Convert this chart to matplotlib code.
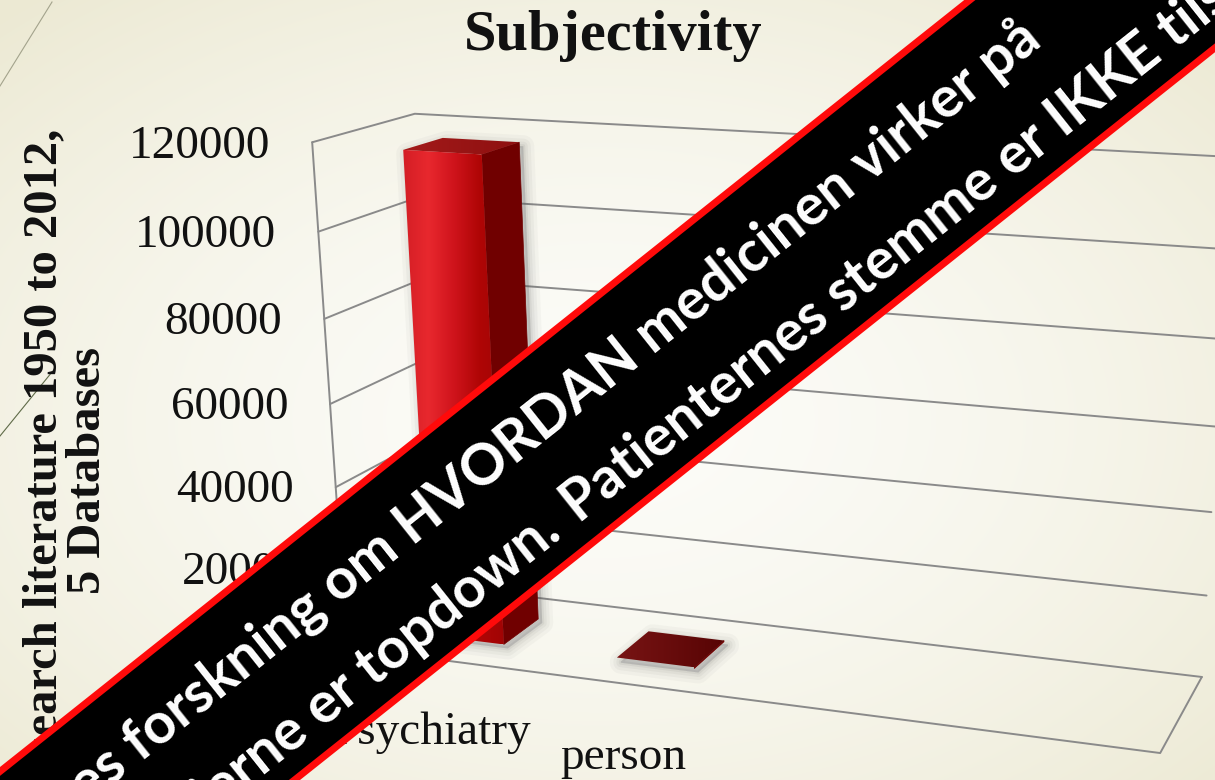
import numpy as np
import matplotlib
matplotlib.use("Agg")
import matplotlib.pyplot as plt
from matplotlib.colors import to_rgb, LinearSegmentedColormap
from matplotlib.patches import Polygon

# ---- data ----
categories = ["Psychiatry", "person", "", ""]
counts = [117000, 300, np.nan, np.nan]
value_ticks = [0, 20000, 40000, 60000, 80000, 100000, 120000]
value_max = 120000
title = "Subjectivity"
value_label = "Research literature 1950 to 2012,\n5 Databases"
banner_line1 = "Der mangler brugeres forskning om HVORDAN medicinen virker på"
banner_line2 = ["hjernen. Studierne er topdown.", "Patienternes stemme er IKKE tilstede"]

W, H = 1215, 780
SERIF = "Liberation Serif"

# corners of the 3d plot box (u = category axis, v = depth, w = height)
# and where they land on the slide; a pinhole camera is fitted to them
box_corners = np.array([[0, 0, 0], [0, 0, 1], [0, 1, 1], [0, 1, 0],
                        [1, 1, 0], [1, 0, 0], [1, 1, 1]], float)
box_pixels = np.array([[347, 648], [312, 142], [415, 114], [440, 586],
                       [1202, 677], [1160, 753], [1232, 157]], float)


def fit_camera(pts3, pts2):
    rows = []
    for p, (x, y) in zip(pts3, pts2 / 1000.0):
        h = list(p) + [1.0]
        rows.append(h + [0.0] * 4 + [-x * c for c in h])
        rows.append([0.0] * 4 + h + [-y * c for c in h])
    return np.linalg.svd(np.array(rows))[2][-1].reshape(3, 4)


cam = fit_camera(box_corners, box_pixels)
eye = np.linalg.svd(cam)[2][-1]
eye = eye[:3] / eye[3]


def proj(u, v, w):
    h = cam @ np.array([u, v, w, 1.0])
    return h[0] / h[2] * 1000, h[1] / h[2] * 1000


def quad(pts):
    return np.array([proj(*p) for p in pts])


def hull(pts):
    pts = sorted(map(tuple, pts))
    def half(seq):
        out = []
        for p in seq:
            while len(out) >= 2 and ((out[-1][0] - out[-2][0]) * (p[1] - out[-2][1])
                                     - (out[-1][1] - out[-2][1]) * (p[0] - out[-2][0])) <= 0:
                out.pop()
            out.append(p)
        return out
    lo, up = half(pts), half(pts[::-1])
    return np.array(lo[:-1] + up[:-1])


def gradient_face(ax, poly, cmap, zorder):
    # left-to-right colour ramp clipped to a projected face
    x0, y0 = poly.min(axis=0)
    x1, y1 = poly.max(axis=0)
    ramp = np.linspace(0, 1, 256)[None, :].repeat(2, axis=0)
    im = ax.imshow(ramp, cmap=cmap, extent=(x0, x1, y1, y0), aspect="auto",
                   interpolation="bilinear", zorder=zorder)
    patch = Polygon(poly, closed=True, fc="none", ec="none", transform=ax.transData)
    im.set_clip_path(patch)


fig = plt.figure(figsize=(W / 100, H / 100), dpi=100)
ax = fig.add_axes([0, 0, 1, 1])

# slide background: pale cream with a soft radial fade
yy, xx = np.mgrid[0:H, 0:W]
r = np.hypot((xx - 600) / W, (yy - 420) / H)
t = np.clip(r / 0.72, 0, 1) ** 1.6
c0, c1 = np.array(to_rgb("#fcfcf8")), np.array(to_rgb("#ece9d3"))
ax.imshow(c0 + (c1 - c0) * t[..., None], extent=(0, W, H, 0), zorder=0)

# theme decoration lines
ax.plot([0, 52], [86, 2], color="#a3a38c", lw=0.8, zorder=1)
ax.plot([0, 52], [436, 372], color="#5f6b48", lw=0.8, zorder=1)

grid_kw = dict(color="#8a8a8a", lw=1.4, zorder=2, solid_capstyle="round")

# walls: side wall + back wall gridlines
for val in value_ticks:
    w = val / value_max
    p = quad([(0, 0, w), (0, 1, w), (1, 1, w)])
    ax.plot(p[:, 0], p[:, 1], **grid_kw)
edge = quad([(0, 0, 0), (0, 0, 1)])
ax.plot(edge[:, 0], edge[:, 1], **grid_kw)
floor = quad([(0, 0, 0), (1, 0, 0), (1, 1, 0)])
ax.plot(floor[:, 0], floor[:, 1], **grid_kw)

# tick labels
for val in value_ticks:
    x, y = proj(0, 0, val / value_max)
    ax.text(x - 42, y + 4, f"{val}", ha="right", va="center",
            fontsize=34, family=SERIF, color="#111111", zorder=3)

# 3d columns
slot = 1.0 / len(categories)
bw = slot / 2.5
v0, v1 = 0.3, 0.7
front_cmap = LinearSegmentedColormap.from_list(
    "front", ["#d41e25", "#e8282e", "#d0141c", "#b00606", "#a00404"])
top_cmap = LinearSegmentedColormap.from_list("top", ["#a31a1a", "#8e1010"])
flat_cmap = LinearSegmentedColormap.from_list("flat", ["#781414", "#570404"])
for i, val in enumerate(counts):
    if np.isnan(val):
        continue
    w = val / value_max
    u0 = (i + 0.5) * slot - bw / 2
    u1 = u0 + bw
    corners = [(a, b, c) for a in (u0, u1) for b in (v0, v1) for c in (0, w)]
    sil = hull(quad(corners)) + np.array([4, 4])
    for lw, a in [(22, 0.04), (15, 0.05), (9, 0.06), (4, 0.08)]:
        ax.add_patch(Polygon(sil, closed=True, fc="#555555", ec="#555555", lw=lw * 0.72,
                             alpha=a, joinstyle="round", zorder=4))
    if eye[0] > u1:
        ax.add_patch(Polygon(quad([(u1, v0, 0), (u1, v1, 0), (u1, v1, w), (u1, v0, w)]),
                             closed=True, fc="#700000", ec="#700000", lw=0.5, zorder=5))
    if eye[0] < u0:
        ax.add_patch(Polygon(quad([(u0, v0, 0), (u0, v1, 0), (u0, v1, w), (u0, v0, w)]),
                             closed=True, fc="#700000", ec="#700000", lw=0.5, zorder=5))
    flat = w < 0.01
    if eye[2] > w:
        gradient_face(ax, quad([(u0, v0, w), (u1, v0, w), (u1, v1, w), (u0, v1, w)]),
                      flat_cmap if flat else top_cmap, 6)
    if not flat:
        gradient_face(ax, quad([(u0, v0, 0), (u1, v0, 0), (u1, v0, w), (u0, v0, w)]),
                      front_cmap, 6)

# category labels under the floor's front edge
for i, name in enumerate(categories):
    x, y = proj((i + 0.5) * slot, 0, 0)
    ax.text(x - 8, y + 73, name, ha="center", va="center", fontsize=34,
            family=SERIF, color="#111111", zorder=3)

ax.text(613, 50, title, ha="center", va="baseline", fontsize=42,
        family=SERIF, weight="bold", color="#111111", zorder=3)
ax.text(66, 470, value_label, ha="center", va="center", rotation=90,
        fontsize=35, family=SERIF, weight="bold", linespacing=1.0,
        multialignment="center", color="#111111", zorder=3)

# diagonal banner over the slide
ang = np.deg2rad(38.5)
d = np.array([np.cos(ang), -np.sin(ang)])
nrm = np.array([np.sin(ang), np.cos(ang)])
c = np.array([607.0, 410.0])
hw, L = 95.0, 1400
band = np.array([c - L * d - hw * nrm, c + L * d - hw * nrm,
                 c + L * d + hw * nrm, c - L * d + hw * nrm])
ax.add_patch(Polygon(band, closed=True, fc="black", ec="#ff0a0a", lw=5.0, zorder=10))

bkw = dict(rotation=38.5, rotation_mode="anchor", va="baseline", fontsize=41,
           family=["Lato", "DejaVu Sans"], weight="bold", color="white", zorder=11)
p1 = c + 570 * d - 15 * nrm
ax.text(p1[0], p1[1], banner_line1, ha="right", **bkw)
p2 = c - 93 * d + 72 * nrm
q2 = p2 - 20 * d
ax.text(q2[0], q2[1], banner_line2[0], ha="right", **bkw)
ax.text(p2[0], p2[1], banner_line2[1], ha="left", **bkw)

ax.set_xlim(0, W)
ax.set_ylim(H, 0)
ax.axis("off")
fig.savefig("out.png", dpi=100)
